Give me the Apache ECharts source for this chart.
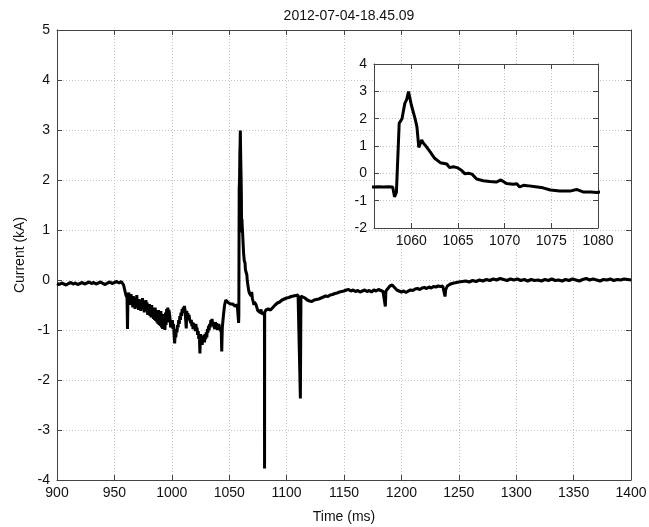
<!DOCTYPE html>
<html><head><meta charset="utf-8">
<script src="https://cdn.jsdelivr.net/npm/echarts@6/dist/echarts.min.js"></script>
<style>html,body{margin:0;padding:0;background:#fff}#c{width:649px;height:527px}</style>
</head><body><div id="c"></div>
<script>
const titleText = '2012-07-04-18.45.09';
const xName = 'Time (ms)';
const yName = 'Current (kA)';

const timeMs = [
900,902,904,906,908,910,912,914,916,918,920,922,924,926,928,930,932,934,936,938,940,942,944,946,948,950,952,954,956,957,958,959,960,961,961.4,961.8,
962.5,963,963.5,964,964.5,965,965.5,966,966.5,967,967.5,968,968.5,969,969.5,970,970.5,971,971.5,972,972.5,973,973.5,974,974.5,975,975.5,976,976.5,977,977.5,978,978.5,979,979.5,980,980.5,981,981.5,982,982.5,983,983.5,984,984.5,985,985.5,986,986.5,987,987.5,988,988.5,989,989.5,990,990.5,991,991.5,992,992.5,993,993.5,994,994.5,995,995.5,996,996.5,997,997.5,998,998.5,999,999.5,1000,
1000.5,1001,1001.5,1002,1002.5,1003,1003.5,1004,1004.5,1005,1005.5,1006,1006.5,1007,1007.5,1008,1008.5,1009,1009.5,1010,1010.5,1011,1011.5,1012,1012.6,1013,1013.5,1014,1014.5,1015,1015.5,1016,1016.5,1017,1017.5,1018,1018.5,1019,1019.5,1020,1020.5,1021,1021.5,1022,1022.5,1023,1023.5,1024,1024.5,1025,1025.5,1026,1026.5,1027,1027.5,1028,1028.5,1029,1029.5,1030,1030.5,1031,1031.5,1032,1032.5,1033,1033.5,1034,1034.5,1035,1035.5,1036,1036.5,1037,1037.5,1038,1038.5,1039,1039.5,1040,1040.5,1041,1041.5,1042,1042.5,1043,1043.5,1044,1045,1046,1047,1048,1049,1050,1051,1052,1053,1054,1055,
1056,1056.5,1057,1057.5,1058,1058.2,1058.4,1058.7,1059.0,1059.3,1059.5,1059.7,1060.0,1060.4,1060.6,1060.8,1061.1,1061.3,1061.6,1062.0,1062.5,1063.1,1063.8,1064.1,1064.5,1064.9,1065.4,1065.75,1066.1,1066.5,1067.0,1067.7,1068.4,1069.1,1069.6,1070.2,1070.9,1071.3,1071.6,1072.0,1072.4,1073.3,1074.1,1074.9,1075.9,1077.0,1077.7,1078.4,1079.2,1079.9,1080.7,1080.8,1080.9,
1082,1084,1086,1088,1090,1092,1094,1096,1098,1100,1102,1104,1106,1108,1110,1111.5,1112,1112.5,1114,1116,1118,1120,1122,1124,1126,1128,1130,1132,1134,1136,1138,1140,1142,1144,1146,1148,1150,1152,1154,1156,1158,1160,1162,1164,1166,1168,1170,1172,1174,1176,1178,1180,1182,1184,1185.5,1186,1186.5,1188,1190,1192,1194,1196,1198,1200,1202,1204,1206,1208,1210,1212,1214,1216,1218,1220,1222,1224,1226,1228,1230,1232,1234,1236,1237.5,1238,1238.5,1240,1242,1244,1246,1248,1250,1253,1256,1259,1262,1265,1268,1271,1274,1277,1280,1283,1286,1289,1292,1295,1298,1301,1304,1307,1310,1313,1316,1319,1322,1325,1328,1331,1334,1337,1340,1343,1346,1349,1352,1355,1358,1361,1364,1367,1370,1373,1376,1379,1382,1385,1388,1391,1394,1397,1400
];
const currentKA = [
-0.07,-0.09,-0.06,-0.08,-0.1,-0.07,-0.05,-0.08,-0.06,-0.09,-0.07,-0.05,-0.08,-0.06,-0.04,-0.07,-0.05,-0.08,-0.06,-0.04,-0.07,-0.09,-0.06,-0.04,-0.07,-0.05,-0.03,-0.06,-0.03,-0.05,-0.1,-0.2,-0.3,-0.35,-0.98,-0.35,
-0.25,-0.45,-0.3,-0.5,-0.28,-0.48,-0.35,-0.55,-0.32,-0.5,-0.38,-0.58,-0.35,-0.52,-0.3,-0.55,-0.4,-0.6,-0.38,-0.55,-0.42,-0.62,-0.4,-0.58,-0.36,-0.55,-0.42,-0.65,-0.45,-0.6,-0.4,-0.62,-0.45,-0.7,-0.5,-0.68,-0.48,-0.72,-0.52,-0.75,-0.5,-0.7,-0.55,-0.78,-0.58,-0.8,-0.55,-0.82,-0.6,-0.85,-0.62,-0.88,-0.6,-0.9,-0.65,-0.92,-0.62,-0.95,-0.7,-0.98,-0.68,-0.95,-0.75,-1.0,-0.65,-0.9,-0.58,-0.85,-0.55,-0.72,-0.6,-0.68,-0.78,-0.95,-0.82,-0.88,
-0.8,-0.98,-0.88,-1.1,-1.27,-1.05,-1.15,-0.98,-1.05,-0.9,-0.95,-0.8,-0.88,-0.72,-0.8,-0.65,-0.72,-0.58,-0.66,-0.55,-0.62,-0.52,-0.6,-0.58,-0.97,-0.62,-0.75,-0.66,-0.8,-0.7,-0.78,-0.74,-0.86,-0.8,-0.92,-0.85,-0.98,-0.86,-0.95,-0.9,-1.02,-0.88,-1.0,-0.95,-1.1,-1.02,-1.18,-1.1,-1.47,-1.08,-1.22,-1.15,-1.3,-1.12,-1.22,-1.1,-1.25,-1.08,-1.18,-1.05,-1.15,-0.98,-1.05,-0.92,-1.0,-0.88,-0.95,-0.8,-0.9,-0.78,-0.85,-0.82,-0.92,-0.88,-0.98,-0.84,-0.92,-0.86,-1.0,-0.9,-0.98,-0.88,-0.95,-0.92,-1.02,-0.95,-1.43,-0.95,-0.7,-0.5,-0.4,-0.42,-0.45,-0.43,-0.48,-0.5,-0.48,-0.5,-0.52,
-0.5,-0.49,-0.5,-0.49,-0.5,-0.86,-0.7,1.83,2.0,2.56,2.7,2.99,2.5,2.0,1.7,0.95,1.22,1.1,0.98,0.79,0.55,0.39,0.34,0.21,0.24,0.21,0.1,-0.02,0.0,-0.03,-0.21,-0.27,-0.3,-0.32,-0.24,-0.37,-0.4,-0.38,-0.5,-0.44,-0.45,-0.49,-0.53,-0.61,-0.65,-0.65,-0.59,-0.68,-0.68,-0.7,-0.65,-3.77,-0.65,
-0.6,-0.58,-0.6,-0.55,-0.5,-0.46,-0.44,-0.4,-0.38,-0.36,-0.35,-0.33,-0.32,-0.31,-0.3,-0.32,-2.37,-0.32,-0.33,-0.36,-0.4,-0.42,-0.43,-0.4,-0.39,-0.38,-0.36,-0.34,-0.32,-0.33,-0.3,-0.29,-0.27,-0.26,-0.24,-0.23,-0.22,-0.2,-0.19,-0.22,-0.2,-0.23,-0.21,-0.24,-0.22,-0.2,-0.23,-0.21,-0.24,-0.2,-0.22,-0.19,-0.21,-0.23,-0.22,-0.53,-0.22,-0.18,-0.12,-0.1,-0.15,-0.2,-0.22,-0.24,-0.22,-0.25,-0.22,-0.2,-0.21,-0.18,-0.17,-0.19,-0.16,-0.15,-0.17,-0.14,-0.16,-0.13,-0.14,-0.12,-0.13,-0.12,-0.15,-0.33,-0.2,-0.12,-0.09,-0.07,-0.06,-0.05,-0.04,-0.03,-0.02,-0.04,-0.01,-0.03,0.0,-0.02,0.01,-0.01,0.02,0.0,0.03,0.01,-0.01,0.02,0.0,0.02,-0.01,0.01,-0.02,0.01,-0.01,0.0,-0.02,0.01,-0.01,0.02,-0.01,0.0,-0.02,0.01,-0.01,0.02,0.0,-0.02,0.01,0.03,0.0,0.02,0.0,-0.02,0.01,0.0,0.02,-0.01,0.01,0.0,0.02,0.01,0.0
];

const mainX = {min: 900, max: 1400, interval: 50};
const mainY = {min: -4, max: 5, interval: 1};
const insetX = {min: 1056, max: 1080};
const insetY = {min: -2, max: 4, interval: 1};

const FONT = "'Liberation Sans', Arial, Helvetica, sans-serif";
const frame = {show: true, onZero: false, lineStyle: {color: '#444', width: 1}};
const tickIn = {show: true, inside: true, length: 5, lineStyle: {color: '#444', width: 1}};
const grid = {show: true, lineStyle: {color: '#c4c4c4', type: [1, 2], width: 1}};
const fmt = v => String(v);
const lbl = {color: '#111', fontSize: 14, fontFamily: FONT};

const seriesData = timeMs.map((t, i) => [t, currentKA[i]]);

const chart = echarts.init(document.getElementById('c'), null, {renderer: 'canvas'});
chart.setOption({
  animation: false,
  backgroundColor: '#fff',
  title: {text: titleText, left: 344, textAlign: 'center', top: 4,
    textStyle: {fontSize: 14, fontWeight: 'normal', color: '#111', fontFamily: FONT}},
  grid: [
    {left: 57, top: 30, width: 574, height: 450, show: false, containLabel: false, outerBoundsMode: 'none'},
    {left: 374, top: 64, width: 224, height: 164, show: true, backgroundColor: '#fff', borderWidth: 0, z: 10,
      containLabel: false, outerBoundsMode: 'none'}
  ],
  xAxis: [
    {type: 'value', gridIndex: 0, position: 'bottom', min: mainX.min, max: mainX.max, interval: mainX.interval,
      axisLine: frame, axisTick: tickIn, splitLine: grid, axisLabel: Object.assign({margin: 6, formatter: fmt}, lbl),
      name: xName, nameLocation: 'middle', nameGap: 30, nameTextStyle: lbl},
    {type: 'value', gridIndex: 0, position: 'top', min: mainX.min, max: mainX.max, interval: mainX.interval,
      axisLine: frame, axisTick: tickIn, splitLine: {show: false}, axisLabel: {show: false}},
    {type: 'value', gridIndex: 1, position: 'bottom', min: insetX.min, max: insetX.max, z: 11,
      axisLine: frame, axisTick: tickIn, splitLine: grid,
      axisLabel: Object.assign({margin: 6, showMinLabel: false, formatter: fmt}, lbl)},
    {type: 'value', gridIndex: 1, position: 'top', min: insetX.min, max: insetX.max, z: 11,
      axisLine: frame, axisTick: tickIn, splitLine: {show: false}, axisLabel: {show: false}}
  ],
  yAxis: [
    {type: 'value', gridIndex: 0, position: 'left', min: mainY.min, max: mainY.max, interval: mainY.interval,
      axisLine: frame, axisTick: tickIn, splitLine: grid, axisLabel: Object.assign({margin: 7, formatter: fmt}, lbl),
      name: yName, nameLocation: 'middle', nameGap: 28, nameRotate: 90, nameTextStyle: lbl},
    {type: 'value', gridIndex: 0, position: 'right', min: mainY.min, max: mainY.max, interval: mainY.interval,
      axisLine: frame, axisTick: tickIn, splitLine: {show: false}, axisLabel: {show: false}},
    {type: 'value', gridIndex: 1, position: 'left', min: insetY.min, max: insetY.max, interval: insetY.interval, z: 11,
      axisLine: frame, axisTick: tickIn, splitLine: grid, axisLabel: Object.assign({margin: 7, formatter: fmt}, lbl)},
    {type: 'value', gridIndex: 1, position: 'right', min: insetY.min, max: insetY.max, interval: insetY.interval, z: 11,
      axisLine: frame, axisTick: tickIn, splitLine: {show: false}, axisLabel: {show: false}}
  ],
  series: [
    {type: 'line', xAxisIndex: 0, yAxisIndex: 0, data: seriesData, showSymbol: false, symbol: 'none',
      lineStyle: {color: '#000', width: 3}, z: 3},
    {type: 'line', xAxisIndex: 2, yAxisIndex: 2, data: seriesData, showSymbol: false, symbol: 'none', clip: true,
      lineStyle: {color: '#000', width: 3}, z: 12}
  ]
});
</script></body></html>
